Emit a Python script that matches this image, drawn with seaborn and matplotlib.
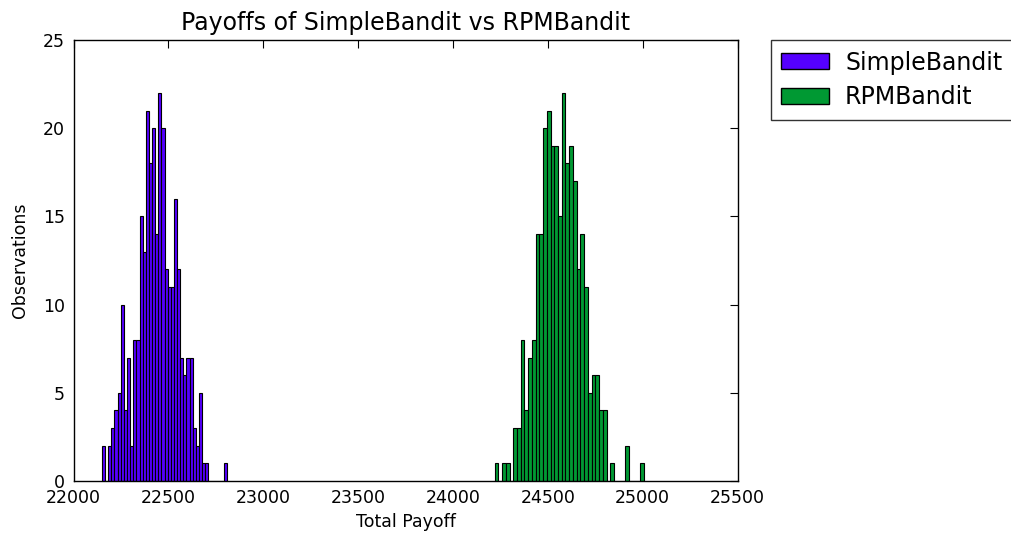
import numpy as np
import pandas as pd
import seaborn as sns
import matplotlib
matplotlib.use("Agg")
import matplotlib.pyplot as plt
from matplotlib.patches import Patch

# 40-bin histograms (300 runs per bandit)
simple_range = (22150, 22810)
simple_counts = [2, 0, 2, 3, 4, 5, 10, 4, 7, 2,
                 8, 8, 15, 13, 21, 18, 20, 14, 22, 20,
                 12, 11, 11, 16, 12, 7, 6, 7, 7, 3,
                 2, 5, 1, 1, 0, 0, 0, 0, 0, 1]

rpm_range = (24220, 25006)
rpm_counts = [1, 0, 1, 1, 0, 3, 3, 8, 4, 7,
              8, 14, 14, 20, 21, 19, 19, 15, 22, 18,
              19, 17, 12, 14, 11, 5, 6, 6, 4, 4,
              0, 1, 0, 0, 0, 2, 0, 0, 0, 1]

labels = ["SimpleBandit", "RPMBandit"]
colors = ["#5500ff", "#009933"]


def hist_frame(lo, hi, counts):
    edges = np.linspace(lo, hi, len(counts) + 1)
    centers = (edges[:-1] + edges[1:]) / 2
    return pd.DataFrame({"payoff": centers, "count": counts}), edges.tolist()


sns.set_style("white")
plt.rcParams["font.family"] = ["DejaVu Sans"]
plt.rcParams["text.color"] = "black"
plt.rcParams["axes.labelcolor"] = "black"

fig = plt.figure(figsize=(10.11, 5.44), dpi=100)
ax = fig.add_axes([73.5 / 1011, 63 / 544, 664 / 1011, 441 / 544])

for (lo, hi), counts, color in zip([simple_range, rpm_range],
                                   [simple_counts, rpm_counts], colors):
    df, edges = hist_frame(lo, hi, counts)
    sns.histplot(data=df, x="payoff", weights="count", bins=edges,
                 color=color, edgecolor="black", linewidth=0.8,
                 alpha=1, ax=ax)

ax.set_xlim(22000, 25500)
ax.set_ylim(0, 25)
ax.set_yticks(range(0, 26, 5))
ax.set_xticks(range(22000, 25501, 500))
ax.tick_params(direction="in", top=True, right=True, length=6,
               width=0.8, labelsize=12.5, pad=6, colors="black")
for s in ax.spines.values():
    s.set_color("black")
    s.set_linewidth(1)

ax.set_title("Payoffs of SimpleBandit vs RPMBandit", fontsize=17, pad=7,
             color="black")
ax.set_xlabel("Total Payoff", fontsize=12.5)
ax.set_ylabel("Observations", fontsize=12.5, labelpad=10)

handles = [Patch(facecolor=c, edgecolor="black", label=l)
           for c, l in zip(colors, labels)]
ax.legend(handles=handles, loc="upper left", bbox_to_anchor=(1.05, 1),
          borderaxespad=0, fontsize=17, frameon=True, fancybox=False,
          edgecolor="black", handlelength=2.0, handleheight=0.65,
          handletextpad=0.7, labelspacing=0.45, borderpad=0.45)

fig.savefig("out.png", dpi=100)
